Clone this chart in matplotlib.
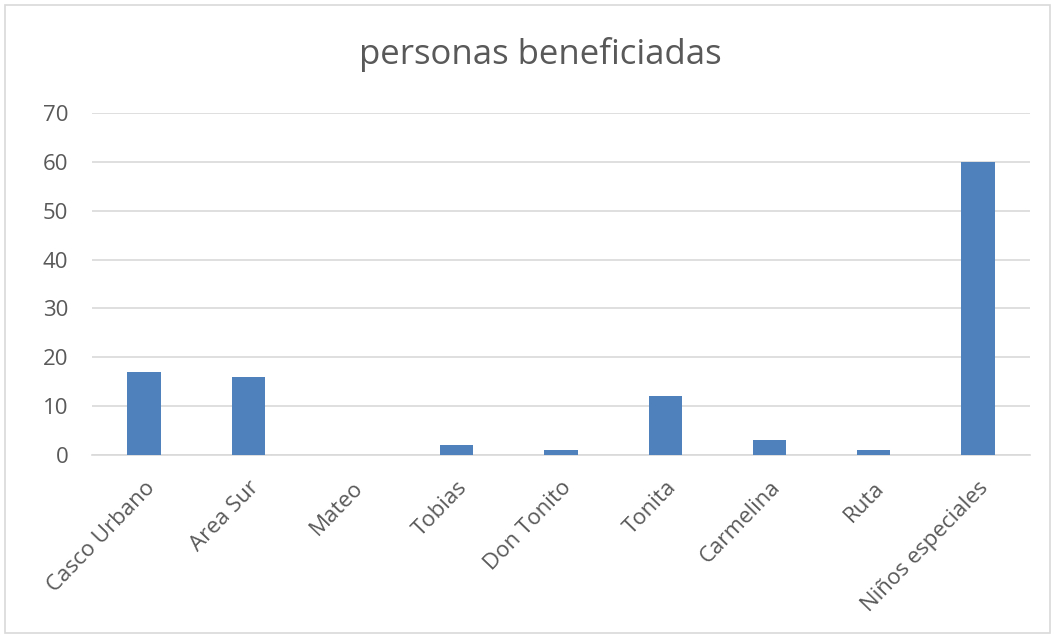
import matplotlib.pyplot as plt
from matplotlib.patches import Rectangle

categorias = ['Casco Urbano', 'Area Sur', 'Mateo', 'Tobias', 'Don Tonito',
              'Tonita', 'Carmelina', 'Ruta', 'Niños especiales']
personas = [17, 16, 0, 2, 1, 12, 3, 1, 60]
yticks = [0, 10, 20, 30, 40, 50, 60, 70]

plt.rcParams['font.family'] = ['Open Sans', 'DejaVu Sans']
gris = '#595959'

fig = plt.figure(figsize=(10.55, 6.38), dpi=100)
fig.patches.append(Rectangle((5 / 1055, 5 / 638), 1045 / 1055, 628 / 638,
                             transform=fig.transFigure, fill=False,
                             edgecolor='#d9d9d9', linewidth=1.2))

ax = fig.add_axes([92 / 1055, 1 - 455 / 638, 938 / 1055, 342 / 638])
x = range(len(categorias))
ax.bar(x, personas, width=0.32, color='#4f81bd', zorder=3)

ax.set_xlim(-0.5, len(categorias) - 0.5)
ax.set_ylim(0, 70)
ax.set_yticks(yticks)
ax.yaxis.grid(True, color='#d9d9d9', linewidth=1.2, zorder=0)
for s in ['top', 'right', 'left']:
    ax.spines[s].set_visible(False)
ax.spines['bottom'].set_color('#d9d9d9')
ax.spines['bottom'].set_linewidth(1.2)
ax.tick_params(axis='both', length=0, colors=gris, labelsize=16)
ax.tick_params(axis='y', pad=17)
ax.tick_params(axis='x', pad=16)
ax.set_xticks(list(x))
ax.set_xticklabels(categorias, rotation=46, ha='right', rotation_mode='anchor')

fig.text(540 / 1055, 1 - 55 / 638, 'personas beneficiadas', ha='center',
         va='center', fontsize=25, color=gris)

fig.savefig('out.png', dpi=100)
